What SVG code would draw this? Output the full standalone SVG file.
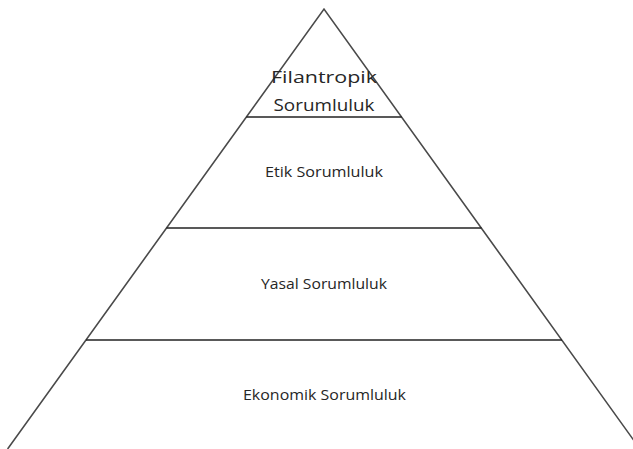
<svg xmlns="http://www.w3.org/2000/svg" width="633" height="449" viewBox="0 0 633 449">
<style>
.side{stroke:#4a4a4a;stroke-width:1.6;fill:none}
.tier{stroke:#222;stroke-width:1.6;fill:none}
.lbl{font-family:"Open Sans","Liberation Sans",Arial,sans-serif;fill:#262626;text-anchor:middle}
</style>
<rect width="633" height="449" fill="#fff"/>
<g id="connectors">
<path class="side" d="M7.6,449 L324,9 L640,449"/>
<line class="tier" x1="246.3" y1="117" x2="401.7" y2="117"/>
<line class="tier" x1="166.5" y1="228" x2="481.5" y2="228"/>
<line class="tier" x1="86" y1="340" x2="562" y2="340"/>
</g>
<g id="filantropik">
<text class="lbl" x="324" y="83" font-size="16.5" textLength="106" lengthAdjust="spacingAndGlyphs">Filantropik</text>
<text class="lbl" x="324" y="111" font-size="16.5" textLength="101" lengthAdjust="spacingAndGlyphs">Sorumluluk</text>
</g>
<g id="etik"><text class="lbl" x="324" y="177" font-size="14" textLength="118" lengthAdjust="spacingAndGlyphs">Etik Sorumluluk</text></g>
<g id="yasal"><text class="lbl" x="324" y="289" font-size="14" textLength="126" lengthAdjust="spacingAndGlyphs">Yasal Sorumluluk</text></g>
<g id="ekonomik"><text class="lbl" x="324.5" y="400" font-size="14" textLength="163" lengthAdjust="spacingAndGlyphs">Ekonomik Sorumluluk</text></g>
</svg>
